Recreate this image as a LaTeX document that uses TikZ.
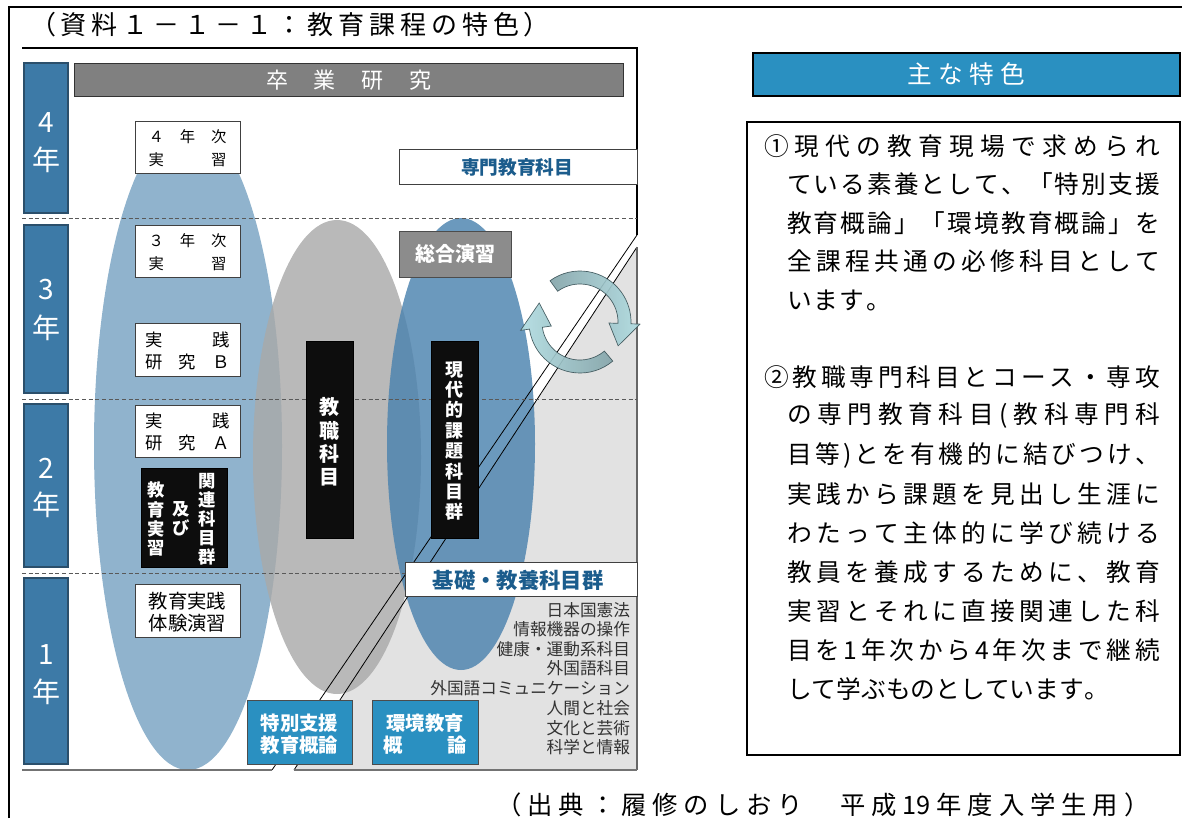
\documentclass[tikz,border=0pt]{standalone}
\usepackage{fontspec}
\setmainfont{Noto Sans CJK JP}
\definecolor{yearblue}{HTML}{3D7AA7}
\definecolor{yearedge}{HTML}{2B4F6B}
\definecolor{ellA}{HTML}{8AAFCA}
\definecolor{ellB}{HTML}{A9A9A9}
\definecolor{ellC}{HTML}{4B82AE}
\definecolor{regiongray}{HTML}{E2E2E2}
\definecolor{boxblue}{HTML}{2A90C1}
\definecolor{txtblue}{HTML}{1B5C8C}
\definecolor{sogogray}{HTML}{8C8C8C}
\definecolor{barGray}{HTML}{808080}
\definecolor{arrowDark}{HTML}{84A4A9}
\definecolor{arrowLight}{HTML}{B0DCE1}
\definecolor{arrowEdge}{HTML}{3A5257}
\makeatletter
\def\sp@end{\sp@end}
\def\sp@loop#1{\ifx#1\sp@end\else#1\hfil\expandafter\sp@loop\fi}
\newcommand\spreadto[2]{\leavevmode\hbox to #1{\sp@loop#2\sp@end\unskip}}
\makeatother
\newdimen\pxu \pxu=0.75pt
\def\nn{19}
\begin{document}
\begin{tikzpicture}[x=0.75pt,y=-0.75pt,
  every node/.style={inner sep=0pt, outer sep=0pt},
  wbox/.style={fill=white, draw=black!75, line width=0.6pt},
  ybox/.style={fill=yearblue, draw=yearedge, line width=0.8pt},
  blk/.style={fill=black!95},
  ytxt/.style={text=white, font=\fontsize{21}{21}\selectfont},
  btxt/.style={align=center, font=\fontsize{11.5}{17}\selectfont},
  btxtb/.style={align=center, font=\fontsize{13}{16.5}\selectfont},
  vtxt/.style={text=white, align=center},
  listtxt/.style={anchor=east, text=black!80, font=\fontsize{12.5}{12.5}\selectfont},
  body/.style={anchor=west, font=\fontsize{18.5}{18.5}\selectfont},
  dash line/.style={black!65, line width=0.6pt, dash pattern=on 3pt off 2pt},
  bluebox/.style={fill=boxblue, draw=black!70, line width=0.6pt},
  whitebold/.style={text=white, align=center, font=\bfseries\fontsize{14.5}{16.5}\selectfont},
  arrowband/.style={draw=arrowEdge, line width=0.5pt, opacity=0.92}
]
\useasboundingbox (0,0) rectangle (1182,818);
% outer frame
\draw[line width=1.3pt] (9,818) -- (9,7) -- (1182,7);
\node (title) at (290,25) {\fontsize{19.5}{19.5}\selectfont\spreadto{520\pxu}{（資料１－１－１：教育課程の特色）}};

% light gray region
\fill[regiongray] (637,247) -- (637,770) -- (294,770) -- cycle;
% ellipses
\fill[ellA, opacity=0.95] (188,446) ellipse [x radius=94, y radius=324];
\fill[ellB, opacity=0.82] (337,457) ellipse [x radius=84, y radius=237];
\fill[ellC, opacity=0.82] (461,444) ellipse [x radius=74, y radius=226];
% diagonal lines
\draw[line width=0.6pt] (637,235) -- (272,770);
\draw[line width=0.6pt] (637,247) -- (294,770);
% inner frame
\draw[line width=0.8pt] (22,48) -- (637,48) -- (637,235);
\draw[line width=0.8pt, black!60] (637,247) -- (637,770);
\draw[line width=1.2pt, black!55] (22,770) -- (272,770);
\draw[line width=1.2pt, black!55] (294,770) -- (637,770);
% dashed year separators
\draw[dash line] (22,218) -- (637,218);
\draw[dash line] (22,399) -- (637,399);
\draw[dash line] (22,573) -- (405,573);

% year column
\draw[ybox] (24,63) rectangle (68,213);
\draw[ybox] (24,225) rectangle (68,393);
\draw[ybox] (24,404) rectangle (68,567);
\draw[ybox] (24,578) rectangle (68,764);
\node[ytxt] (y4a) at (46,123) {4};
\node[ytxt] (y4b) at (46,160) {年};
\node[ytxt] (y3a) at (46,290) {3};
\node[ytxt] (y3b) at (46,328) {年};
\node[ytxt] (y2a) at (46,468) {2};
\node[ytxt] (y2b) at (46,505) {年};
\node[ytxt] (y1a) at (46,655) {1};
\node[ytxt] (y1b) at (46,692) {年};

% graduation research bar
\draw[fill=barGray, draw=black!80, line width=0.6pt] (74,63) rectangle (623,96);
\node[text=white, font=\fontsize{16.5}{16.5}\selectfont] (sotsu) at (349,80) {\spreadto{166\pxu}{卒業研究}};

% practice boxes
\draw[wbox] (135,121) rectangle (240,173);
\node[btxt] (j4) at (187.5,148) {\spreadto{78\pxu}{４年次}\\\spreadto{78\pxu}{実　習}};
\draw[wbox] (135,225) rectangle (240,277);
\node[btxt] (j3) at (187.5,252) {\spreadto{78\pxu}{３年次}\\\spreadto{78\pxu}{実　習}};
\draw[wbox] (135,323) rectangle (240,376);
\node[btxtb] (jb) at (187.5,351) {\spreadto{84\pxu}{実践}\\\spreadto{84\pxu}{研究Ｂ}};
\draw[wbox] (135,405) rectangle (240,457);
\node[btxtb] (ja) at (187.5,432) {\spreadto{84\pxu}{実践}\\\spreadto{84\pxu}{研究Ａ}};
\draw[wbox] (135,584) rectangle (240,637);
\node[align=center, font=\fontsize{14.5}{16}\selectfont] (taiken) at (187.5,612) {教育実践\\体験演習};

% black boxes
\draw[blk] (141,468) rectangle (227,567);
\node[vtxt, font=\bfseries\fontsize{13}{14.3}\selectfont] (kyoiku) at (156,519) {教\\育\\実\\習};
\node[vtxt, font=\bfseries\fontsize{13}{14.3}\selectfont] (oyobi) at (181,519) {及\\び};
\node[vtxt, font=\bfseries\fontsize{13}{14.3}\selectfont] (kanren) at (207,519) {関\\連\\科\\目\\群};
\draw[blk] (306,341) rectangle (353,538);
\node[vtxt, font=\bfseries\fontsize{15}{17.5}\selectfont] (kyoshoku) at (329.5,442) {教\\職\\科\\目};
\draw[blk] (431,341) rectangle (478,538);
\node[vtxt, font=\bfseries\fontsize{13.5}{15.3}\selectfont] (gendai) at (454,441) {現\\代\\的\\課\\題\\科\\目\\群};

% right-hand boxes in the diagram
\draw[wbox] (399,149) rectangle (637,184);
\node[text=txtblue, font=\bfseries\fontsize{14}{14}\selectfont] (senmon) at (517,167) {専門教育科目};
\draw[fill=sogogray, draw=black!70, line width=0.6pt] (399,231) rectangle (511,277);
\node[text=white, font=\bfseries\fontsize{15}{15}\selectfont] (sogo) at (455,254) {総合演習};
\draw[wbox] (405,562) rectangle (637,596);
\node[text=txtblue, font=\bfseries\fontsize{16}{16}\selectfont] (kiso) at (518,580) {基礎・教養科目群};

% list
\node[listtxt] (l1) at (630,610) {日本国憲法};
\node[listtxt] (l2) at (630,629) {情報機器の操作};
\node[listtxt] (l3) at (630,649) {健康・運動系科目};
\node[listtxt] (l4) at (630,668) {外国語科目};
\node[listtxt] (l5) at (630,688) {外国語コミュニケーション};
\node[listtxt] (l6) at (630,708) {人間と社会};
\node[listtxt] (l7) at (630,728) {文化と芸術};
\node[listtxt] (l8) at (630,747) {科学と情報};

% blue boxes
\draw[bluebox] (247,700) rectangle (352,764);
\node[whitebold] (tokubetsu) at (299.5,734) {特別支援\\教育概論};
\draw[bluebox] (372,700) rectangle (478,764);
\node[whitebold] (kankyo) at (425,734) {環境教育\\\spreadto{84\pxu}{概論}};

% circular arrows
\begin{scope}[shift={(580,322)}, yscale=-1]
\draw[arrowband, left color=arrowDark, right color=arrowLight]
  (126:51) arc[start angle=126, end angle=-2, radius=51] -- (-2:60) -- (-32:45) -- (-2:29) -- (-2:38)
  arc[start angle=-2, end angle=126, radius=38] -- cycle;
\draw[arrowband, left color=arrowLight, right color=arrowDark]
  (-50:51) arc[start angle=-50, end angle=-172, radius=51] -- (-172:60) -- (-205:45) -- (-172:29) -- (-172:38)
  arc[start angle=-172, end angle=-50, radius=38] -- cycle;
\end{scope}

% right panel
\draw[fill=boxblue, line width=1pt] (753,53) rectangle (1180,96);
\node[text=white, font=\fontsize{18.5}{18.5}\selectfont] (omona) at (966,74) {\spreadto{118\pxu}{主な特色}};
\draw[line width=0.8pt] (747,122) rectangle (1180,755);
\node[body] (t1) at (764,146) {\spreadto{396\pxu}{①現代の教育現場で求められ}};
\node[body] (t2) at (787,184.5) {\spreadto{373\pxu}{ている素養として、「特別支援}};
\node[body] (t3) at (787,223) {\spreadto{373\pxu}{教育概論」「環境教育概論」を}};
\node[body] (t4) at (787,261.5) {\spreadto{373\pxu}{全課程共通の必修科目として}};
\node[body] (t5) at (787,300) {\spreadto{104\pxu}{います。}};
\node[body] (t6) at (764,377) {\spreadto{396\pxu}{②教職専門科目とコース・専攻}};
\node[body] (t7) at (787,416) {\spreadto{373\pxu}{の専門教育科目(教科専門科}};
\node[body] (t8) at (787,455) {\spreadto{373\pxu}{目等)とを有機的に結びつけ、}};
\node[body] (t9) at (787,494) {\spreadto{373\pxu}{実践から課題を見出し生涯に}};
\node[body] (t10) at (787,533) {\spreadto{373\pxu}{わたって主体的に学び続ける}};
\node[body] (t11) at (787,572) {\spreadto{373\pxu}{教員を養成するために、教育}};
\node[body] (t12) at (787,611) {\spreadto{373\pxu}{実習とそれに直接関連した科}};
\node[body] (t13) at (787,650) {\spreadto{373\pxu}{目を1年次から4年次まで継続}};
\node[body] (t14) at (787,689) {\spreadto{322\pxu}{して学ぶものとしています。}};

% caption
\node[font=\fontsize{19}{19}\selectfont] (source) at (823,805) {\spreadto{653\pxu}{（出典：履修のしおり　平成\nn 年度入学生用）}};
\end{tikzpicture}
\end{document}
